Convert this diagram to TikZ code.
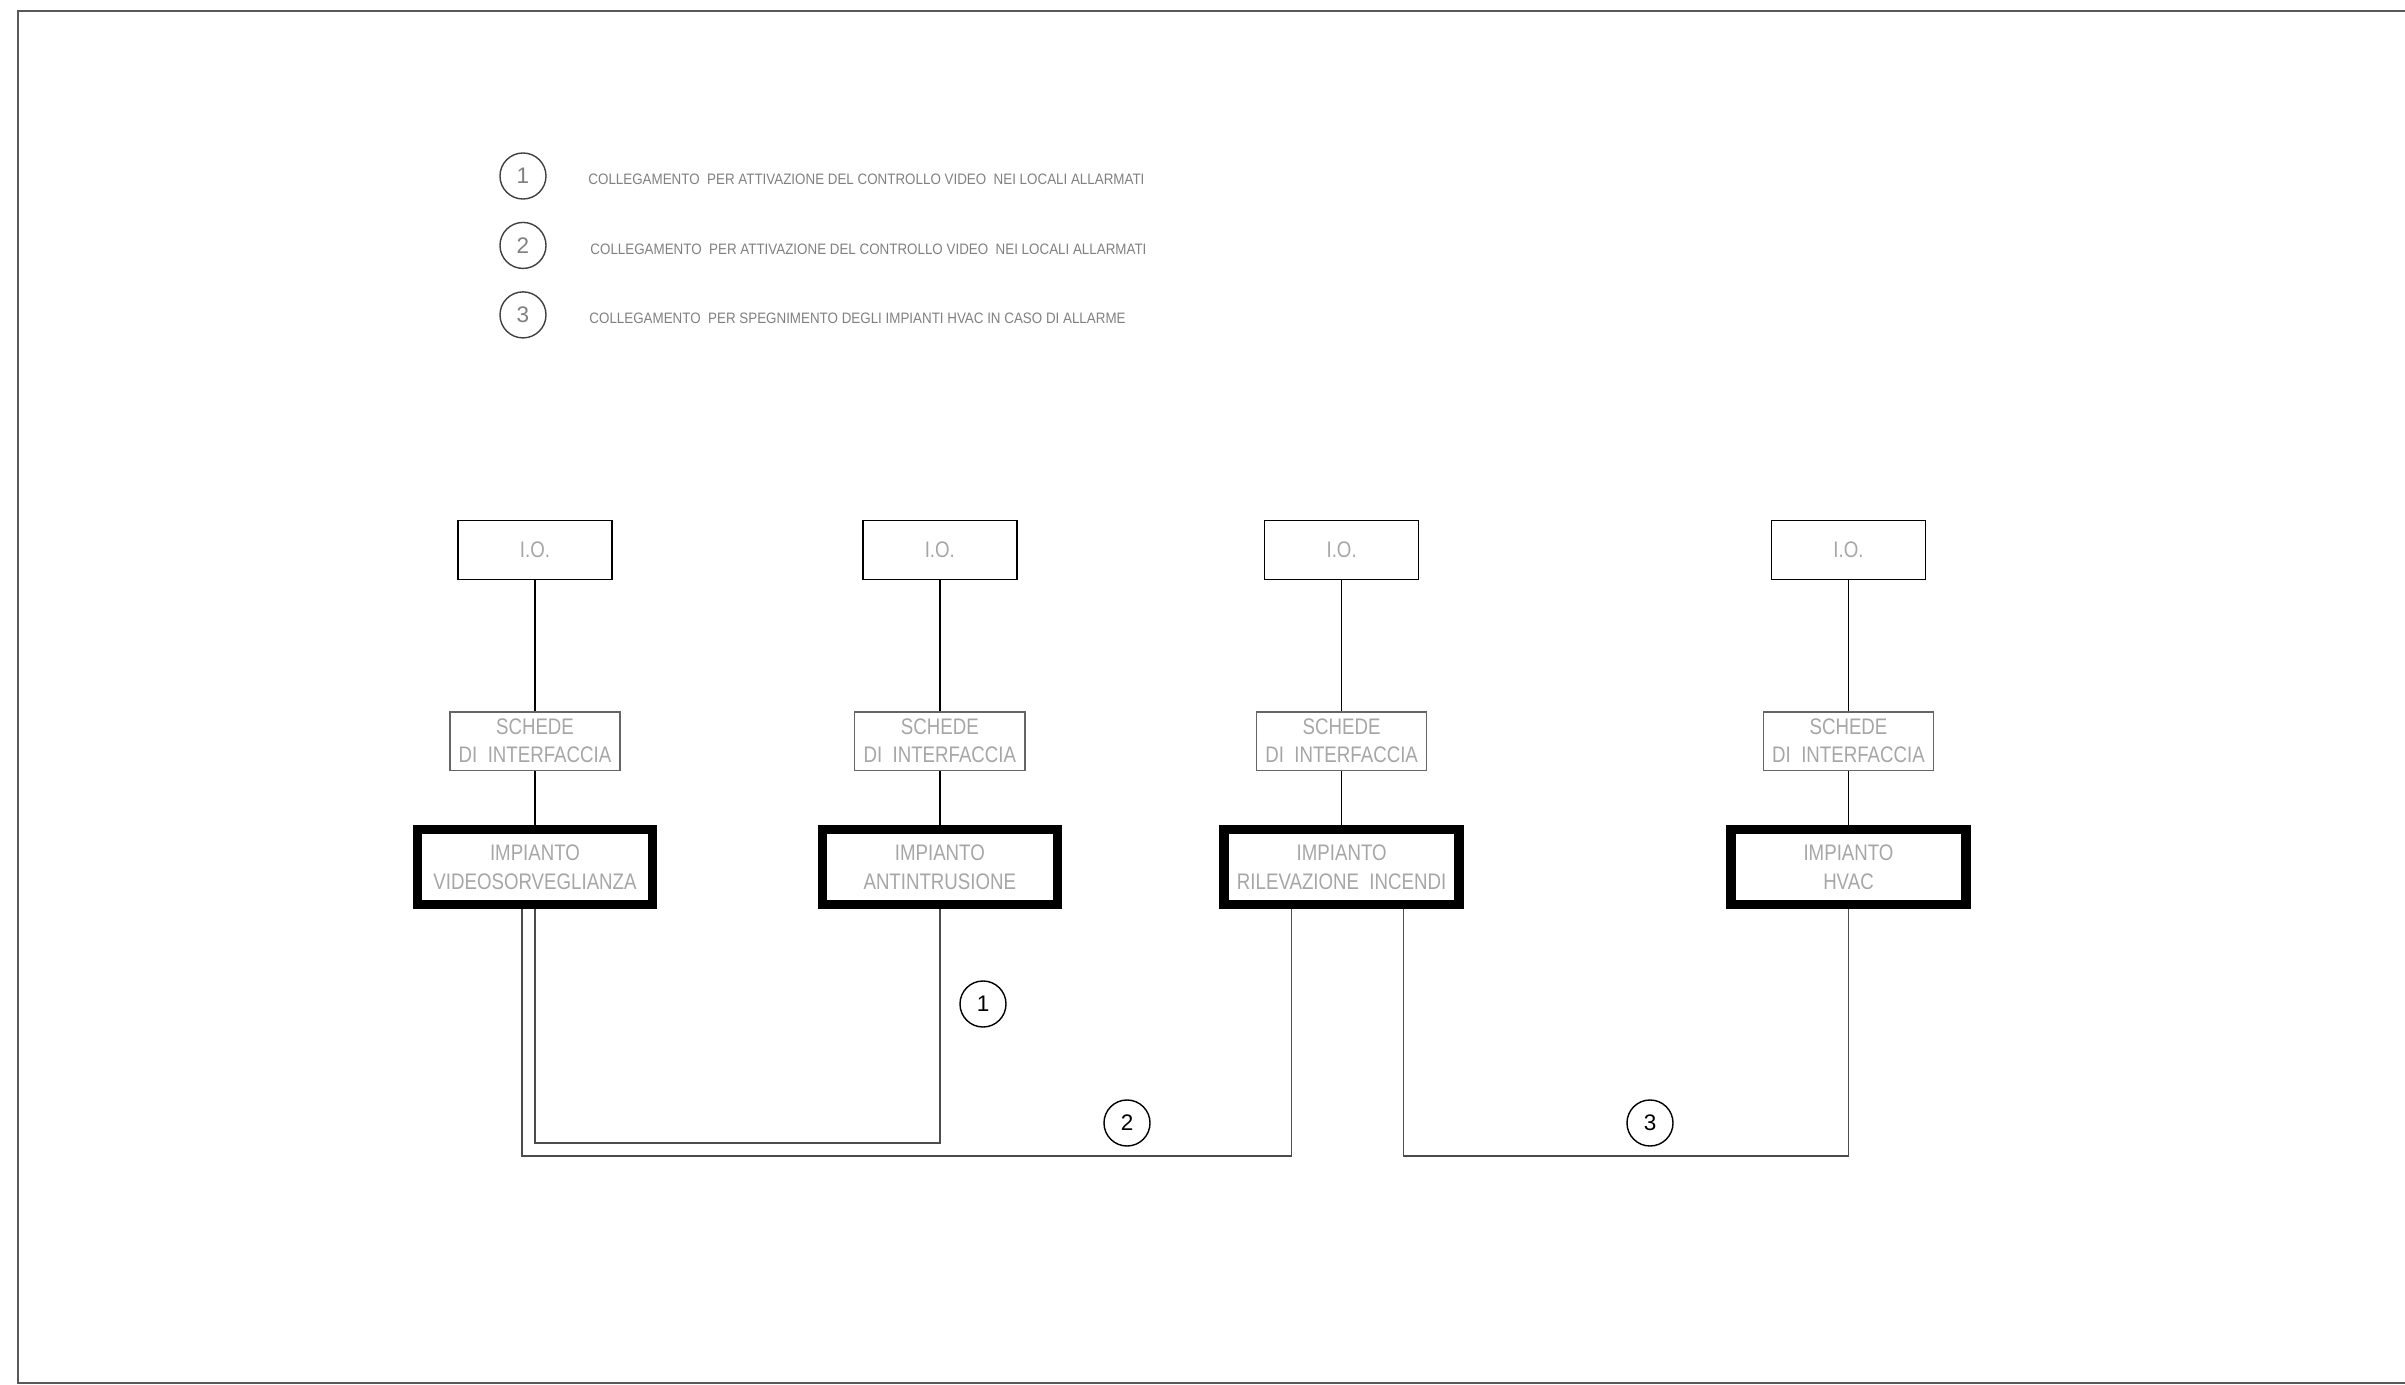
\documentclass[tikz,border=0pt]{standalone}
\usepackage{fontspec}
\setmainfont{Liberation Sans}
\newfontfamily\narrowfont{Liberation Sans}[FakeStretch=0.83]
\newfontfamily\keyfont{Liberation Sans}[FakeStretch=0.885]
\usetikzlibrary{positioning}

\begin{document}
\begin{tikzpicture}[
    x=0.01cm, y=-0.01cm,
    every node/.style={align=center, inner sep=0pt},
    box/.style={draw, rectangle, font=\narrowfont\fontsize{6.4}{8}\selectfont, text=black!35},
    iobox/.style={box, line width=0.45pt, minimum width=1.54cm, minimum height=0.586cm},
    cardbox/.style={box, draw=black!60, line width=0.4pt, minimum width=1.70cm, minimum height=0.583cm},
    plantbox/.style={box, line width=2.7pt, minimum width=2.35cm, minimum height=0.75cm},
    wire/.style={line width=0.45pt},
    link/.style={line width=0.4pt, draw=black!70},
    tag/.style={draw, circle, line width=0.4pt, minimum size=0.46cm, font=\fontsize{6.4}{7}\selectfont},
    keytag/.style={tag, draw=black!75, text=black!50},
    keytext/.style={font=\keyfont\fontsize{4.3}{5}\selectfont, text=black!50}
]
\useasboundingbox (0,0) rectangle (2405,1385);

% Sheet frame
\draw[line width=0.6pt, black!65] (2405,11) -- (18,11) -- (18,1383) -- (2405,1383);

% Legend
\node[keytag] (key1) at (523,176) {1};
\node[keytag] (key2) [below=0.22cm of key1] {2};
\node[keytag] (key3) [below=0.22cm of key2] {3};
\node[keytext] (keytext1) [right=0.41cm of key1, yshift=-1pt] {COLLEGAMENTO~ PER ATTIVAZIONE DEL CONTROLLO VIDEO~ NEI LOCALI ALLARMATI};
\node[keytext] (keytext2) [right=0.43cm of key2, yshift=-1pt] {COLLEGAMENTO~ PER ATTIVAZIONE DEL CONTROLLO VIDEO~ NEI LOCALI ALLARMATI};
\node[keytext] (keytext3) [right=0.42cm of key3, yshift=-1pt] {COLLEGAMENTO~ PER SPEGNIMENTO DEGLI IMPIANTI HVAC IN CASO DI ALLARME};

% Nodes (I.O. row)
\node[iobox] (io1) at (535,550) {I.O.};
\node[iobox] (io2) [right=2.49cm of io1] {I.O.};
\node[iobox] (io3) [right=2.46cm of io2] {I.O.};
\node[iobox] (io4) [right=3.51cm of io3] {I.O.};

% Nodes (interface cards)
\node[cardbox] (card1) [below=1.31cm of io1] {SCHEDE\\DI~ INTERFACCIA};
\node[cardbox] (card2) [below=1.31cm of io2] {SCHEDE\\DI~ INTERFACCIA};
\node[cardbox] (card3) [below=1.31cm of io3] {SCHEDE\\DI~ INTERFACCIA};
\node[cardbox] (card4) [below=1.31cm of io4] {SCHEDE\\DI~ INTERFACCIA};

% Nodes (plants)
\node[plantbox] (plant1) [below=0.54cm of card1] {IMPIANTO\\VIDEOSORVEGLIANZA};
\node[plantbox] (plant2) [below=0.54cm of card2] {IMPIANTO\\ANTINTRUSIONE};
\node[plantbox] (plant3) [below=0.54cm of card3] {IMPIANTO\\RILEVAZIONE~ INCENDI};
\node[plantbox] (plant4) [below=0.54cm of card4] {IMPIANTO\\HVAC};

% Vertical wiring
\foreach \i in {1,...,4} {
    \draw[wire] (io\i) -- (card\i);
    \draw[wire] (card\i) -- (plant\i);
}

% Links between plants
\coordinate (bus1) at (0,1143);
\coordinate (bus2) at (0,1156);
\draw[link] (plant1.south) -- (plant1.south |- bus1) -| (plant2.south);
\draw[link] ([xshift=-0.13cm]plant1.south) -- ([xshift=-0.13cm]plant1.south |- bus2) -| ([xshift=-0.50cm]plant3.south);
\draw[link] ([xshift=0.62cm]plant3.south) -- ([xshift=0.62cm]plant3.south |- bus2) -| (plant4.south);

% Link tags
\node[tag] (tag1) at (983,1004) {1};
\node[tag] (tag2) at (1127,1123) {2};
\node[tag] (tag3) at (1650,1123) {3};

\end{tikzpicture}
\end{document}
